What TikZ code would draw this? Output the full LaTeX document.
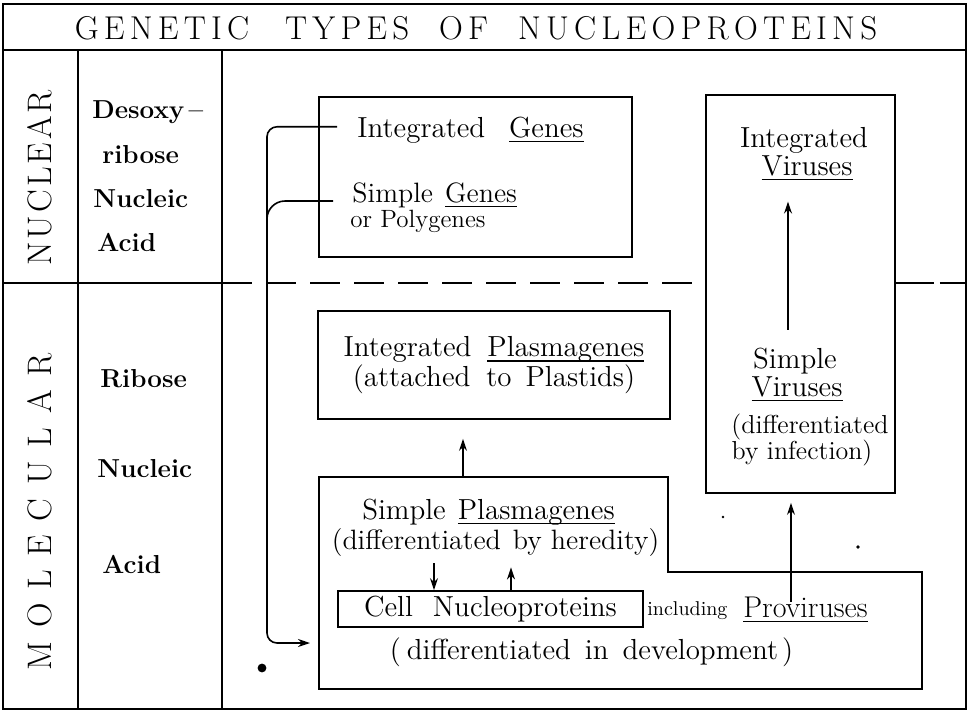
\documentclass[tikz,border=0pt]{standalone}
\usepackage{tikz}
\usetikzlibrary{arrows.meta, calc}

% underline that sits close under the baseline
\newcommand\ulword[1]{\setbox0\hbox{#1}\rlap{\rule[-2.6pt]{\wd0}{0.6pt}}\box0}
% letter spaced capitals
\newcommand\spreadout[2]{\def\spreadsep{\hspace{#1}}\spreadgo#2\relax}
\def\spreadgo#1{\ifx#1\relax\unskip\else#1\spreadsep\expandafter\spreadgo\fi}

\begin{document}
\begin{tikzpicture}[x=0.5pt, y=-0.5pt,
    >={Stealth[length=6pt, width=4pt]},
    outline/.style={line width=1.1pt},
    box/.style={draw, line width=0.9pt, inner sep=0pt},
    txt/.style={inner sep=0pt, font=\fontsize{14.5}{15}\selectfont},
    side/.style={inner sep=0pt, anchor=base west,
        font=\fontsize{13}{15}\selectfont\bfseries},
    conn/.style={line width=0.8pt}]

    \useasboundingbox (0,0) rectangle (970,713);

    % The table
    \draw[outline] (3,4) rectangle (966,709);
    \draw[outline] (3,50) -- (966,50);
    \draw[outline] (78,50) -- (78,709);
    \draw[outline] (222,50) -- (222,709);
    \draw[outline] (3,283) -- (222,283);
    \coordinate (dl) at (222,283);
    \coordinate (dr) at (966,283);

    % Title and row heads
    \node[txt, font=\fontsize{16.5}{18}\selectfont] (title) at (476,28.5)
        {\spreadout{2.6pt}{GENETIC}\hspace{18pt}\spreadout{2.6pt}{TYPES}\hspace{15pt}%
         \spreadout{2.6pt}{OF}\hspace{15pt}\spreadout{2.6pt}{NUCLEOPROTEINS}};
    \node[txt, rotate=90, font=\fontsize{17}{18}\selectfont] (nuclear) at (40,178)
        {\spreadout{1.5pt}{NUCLEAR}};
    \node[txt, rotate=90, font=\fontsize{17}{18}\selectfont] (molecular) at (40,512)
        {\spreadout{6.9pt}{MOLECULAR}};

    % Sugar column
    \node[side] (desoxy) at (92,118) {Desoxy\,--};
    \node[side] (ribose1) at (102,163) {ribose};
    \node[side] (nucl1) at (93,207) {Nucleic};
    \node[side] (acid1) at (97,251) {Acid};
    \node[side] (ribose2) at (100,387) {Ribose};
    \node[side] (nucl2) at (97,477) {Nucleic};
    \node[side] (acid2) at (102,573) {Acid};

    % The boxes
    \node[box, minimum width=156.5pt, minimum height=80pt] (genes) at (475.5,177) {};
    \node[box, minimum width=94.5pt, minimum height=199pt] (viruses) at (800.5,294) {};
    \node[box, txt, align=center, minimum width=176pt, minimum height=54pt] (plasma) at (494,365)
        {Integrated\hspace{8pt}\ulword{Plasmagenes}\\(attached\hspace{8pt}to\hspace{7pt}Plastids)};
    \draw[box] (319,477) -- (668,477) -- (668,572) -- (922,572)
        -- (922,689) -- (319,689) -- cycle;
    \node[box, txt, minimum width=152.5pt, minimum height=18pt] (cell) at (490.5,609)
        {Cell\hspace{10pt}Nucleoproteins};

    % Dashed border between nuclear and molecular
    \draw[outline, dash pattern=on 15pt off 7pt] (dl) -- (dl -| viruses.west);
    \draw[outline, dash pattern=on 19pt off 3pt] (dl -| viruses.east) -- (dr);

    % Texts
    \node[txt, anchor=base west] (igenes) at (357,137) {Integrated\hspace{12pt}\ulword{Genes}};
    \node[txt, anchor=base west, font=\fontsize{14}{15}\selectfont] (sgenes) at (352,202)
        {Simple\hspace{6pt}\ulword{Genes}};
    \node[txt, anchor=base west, font=\fontsize{12.5}{15}\selectfont] (polyg) at (350,227)
        {or Polygenes};

    \node[txt, anchor=base] (vint) at (804,147) {Integrated};
    \node[txt, anchor=base] (vvir) at (807,175) {\ulword{Viruses}};
    \node[txt, anchor=base] (vsimp) at (795,368) {Simple};
    \node[txt, anchor=base] (vvir2) at (797,396) {\ulword{Viruses}};
    \node[txt, anchor=base, font=\fontsize{13}{15}\selectfont] (vdiff) at (810,433) {(differentiated};
    \node[txt, anchor=base, font=\fontsize{13}{15}\selectfont] (vinf) at (802,459) {by infection)};

    \node[txt, anchor=base] (splasma) at (488.5,519) {Simple\hspace{6pt}\ulword{Plasmagenes}};
    \node[txt, anchor=base, font=\fontsize{14}{15}\selectfont] (heredity) at (495.5,549)
        {(differentiated\hspace{6pt}by heredity)};
    \node[txt, anchor=base west, font=\fontsize{10}{12}\selectfont] (incl) at (647,615) {including};
    \node[txt, anchor=base west, font=\fontsize{15}{16}\selectfont] (prov) at (743,617)
        {\ulword{Proviruses}};
    \node[txt, anchor=base] (develop) at (591.5,659)
        {(\hspace{3pt}differentiated\hspace{7pt}in\hspace{7pt}development\hspace{2pt})};

    % Arrows
    \coordinate (xvir) at (788,0);
    \coordinate (xprov) at (791,0);
    \coordinate (xdown) at (434,0);
    \coordinate (xup) at (511,0);
    \coordinate (ltop) at (463,477);
    \coordinate (lin) at (319,643);
    \coordinate (trunk) at (267,643);
    \coordinate (join) at (267,300);

    \draw[conn, ->, shorten >=9.5pt] (ltop) -- (plasma.south -| ltop);
    \draw[conn, ->, shorten <=8.8pt, shorten >=10.5pt] (vsimp.north -| xvir) -- (vvir.south -| xvir);
    \draw[conn, ->, shorten <=-3pt, shorten >=4.5pt] (prov.north -| xprov) -- (viruses.south -| xprov);
    \draw[conn, ->, shorten <=3.5pt] (heredity.south -| xdown) -- (cell.north -| xdown);
    \draw[conn, ->, shorten >=5.5pt] (cell.north -| xup) -- (heredity.south -| xup);

    % Genes lead down into the cell
    \draw[conn, ->, rounded corners=5pt, shorten >=4.5pt]
        ([shift={(-10pt,1.5pt)}]igenes.west) -| (trunk) -- (lin);
    \draw[conn, rounded corners=9pt]
        ([shift={(-9.5pt,0.5pt)}]sgenes.base west) -| (join);

    % Specks
    \fill (262,668) circle (2.2pt);
    \fill (723,517) circle (0.7pt);
    \fill (858,547) circle (0.9pt);
\end{tikzpicture}
\end{document}
